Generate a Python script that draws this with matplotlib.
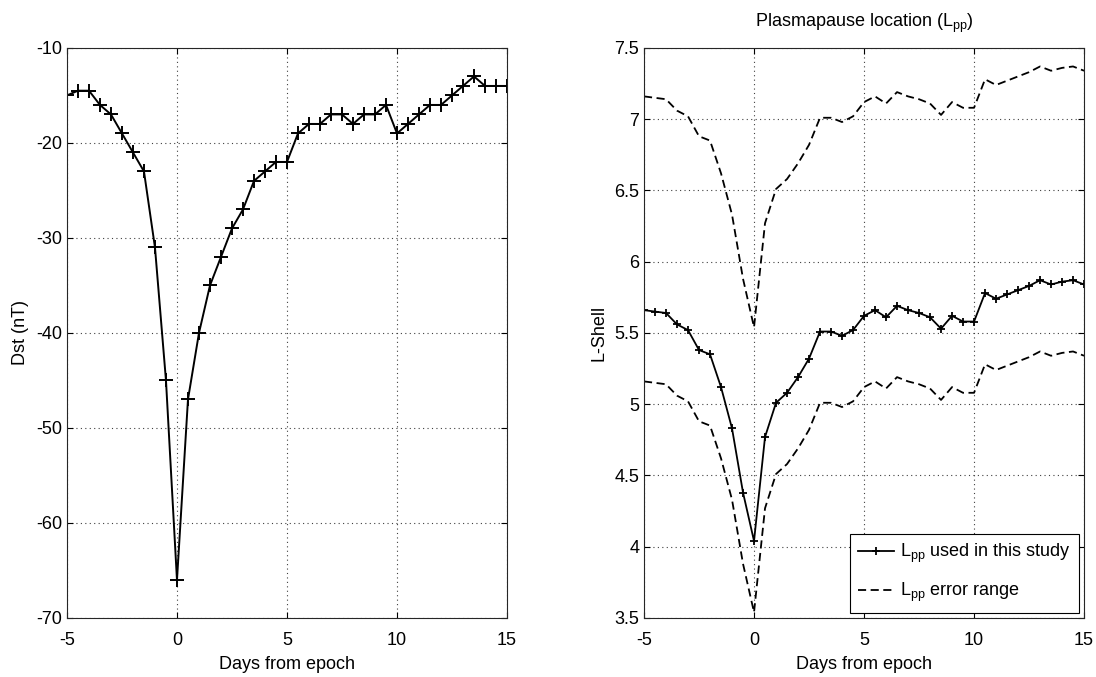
#!/usr/bin/env python3

import numpy as np
import matplotlib
matplotlib.use('Agg')
import matplotlib.pyplot as plt

plt.rcParams['font.family'] = ['Liberation Sans', 'DejaVu Sans']
plt.rcParams['mathtext.default'] = 'regular'
plt.rcParams['axes.unicode_minus'] = False

# days from epoch, one value every half day
days = np.arange(-5, 15.5, 0.5)

# Dst index (nT)
dst = [-15, -14.5, -14.5, -16, -17, -19, -21, -23, -31, -45,
       -66, -47, -40, -35, -32, -29, -27, -24, -23, -22,
       -22, -19, -18, -18, -17, -17, -18, -17, -17, -16,
       -19, -18, -17, -16, -16, -15, -14, -13, -14, -14, -14]

# plasmapause location used in the study
lpp = [5.66, 5.65, 5.64, 5.56, 5.52, 5.38, 5.35, 5.12, 4.83, 4.38,
       4.04, 4.77, 5.01, 5.08, 5.19, 5.32, 5.51, 5.51, 5.48, 5.52,
       5.62, 5.66, 5.61, 5.69, 5.66, 5.64, 5.61, 5.53, 5.62, 5.58,
       5.58, 5.78, 5.74, 5.77, 5.80, 5.83, 5.87, 5.84, 5.86, 5.87, 5.84]

# error range, upper and lower dashed curves
lpp_upper = [7.16, 7.15, 7.14, 7.06, 7.02, 6.88, 6.85, 6.62, 6.33, 5.88,
             5.54, 6.27, 6.51, 6.58, 6.69, 6.82, 7.01, 7.01, 6.98, 7.02,
             7.12, 7.16, 7.11, 7.19, 7.16, 7.14, 7.11, 7.03, 7.12, 7.08,
             7.08, 7.28, 7.24, 7.27, 7.30, 7.33, 7.37, 7.34, 7.36, 7.37, 7.34]
lpp_lower = [5.16, 5.15, 5.14, 5.06, 5.02, 4.88, 4.85, 4.62, 4.33, 3.88,
             3.54, 4.27, 4.51, 4.58, 4.69, 4.82, 5.01, 5.01, 4.98, 5.02,
             5.12, 5.16, 5.11, 5.19, 5.16, 5.14, 5.11, 5.03, 5.12, 5.08,
             5.08, 5.28, 5.24, 5.27, 5.30, 5.33, 5.37, 5.34, 5.36, 5.37, 5.34]

x_ticks = [-5, 0, 5, 10, 15]
dst_ticks = [-70, -60, -50, -40, -30, -20, -10]
l_ticks = [3.5, 4, 4.5, 5, 5.5, 6, 6.5, 7, 7.5]
l_tick_labels = ['3.5', '4', '4.5', '5', '5.5', '6', '6.5', '7', '7.5']

fs = 13

fig = plt.figure(figsize=(10.96, 6.77), dpi=100)
ax1 = fig.add_axes([0.0611, 0.0872, 0.4015, 0.842])
ax2 = fig.add_axes([0.5876, 0.0872, 0.4015, 0.842])


def style_axes(ax):
    ax.grid(True, linestyle=(0, (1, 3)), color='0.25', linewidth=0.8)
    ax.tick_params(direction='in', top=True, right=True, length=4,
                   width=0.8, labelsize=fs)
    ax.tick_params(axis='x', pad=10)
    ax.tick_params(axis='y', pad=3.5)
    for sp in ax.spines.values():
        sp.set_linewidth(0.8)
        sp.set_color('0.15')
    ax.set_axisbelow(True)


# left panel: Dst
ax1.plot(days, dst, color='k', linewidth=1.4, marker='+', markersize=10,
         markeredgewidth=1.4)
ax1.set_xlim(-5, 15)
ax1.set_ylim(-70, -10)
ax1.set_xticks(x_ticks)
ax1.set_yticks(dst_ticks)
ax1.set_xlabel('Days from epoch', fontsize=fs, labelpad=5)
ax1.set_ylabel('Dst (nT)', fontsize=fs, labelpad=5)
style_axes(ax1)

# right panel: plasmapause location
ax2.plot(days, lpp, color='k', linewidth=1.3, marker='+', markersize=6,
         markeredgewidth=1.3, label='$L_{pp}$ used in this study')
up, = ax2.plot(days, lpp_upper, color='k', linewidth=1.3,
               label='$L_{pp}$ error range')
lo, = ax2.plot(days, lpp_lower, color='k', linewidth=1.3)
up.set_dashes((4.5, 2.5))
lo.set_dashes((4.5, 2.5))
ax2.set_xlim(-5, 15)
ax2.set_ylim(3.5, 7.5)
ax2.set_xticks(x_ticks)
ax2.set_yticks(l_ticks)
ax2.set_yticklabels(l_tick_labels)
ax2.set_xlabel('Days from epoch', fontsize=fs, labelpad=5)
ax2.set_ylabel('L-Shell', fontsize=fs, labelpad=5)
ax2.set_title('Plasmapause location ($L_{pp}$)', fontsize=fs, pad=15)
style_axes(ax2)

leg = ax2.legend(loc='lower right', fontsize=fs, frameon=True, fancybox=False,
                 handlelength=2.0, borderaxespad=0.3, labelspacing=0.9,
                 handletextpad=0.3, borderpad=0.45)
leg.get_frame().set_edgecolor('k')
leg.get_frame().set_linewidth(0.8)
leg.get_frame().set_alpha(1)

plt.savefig('out.png', dpi=100)
